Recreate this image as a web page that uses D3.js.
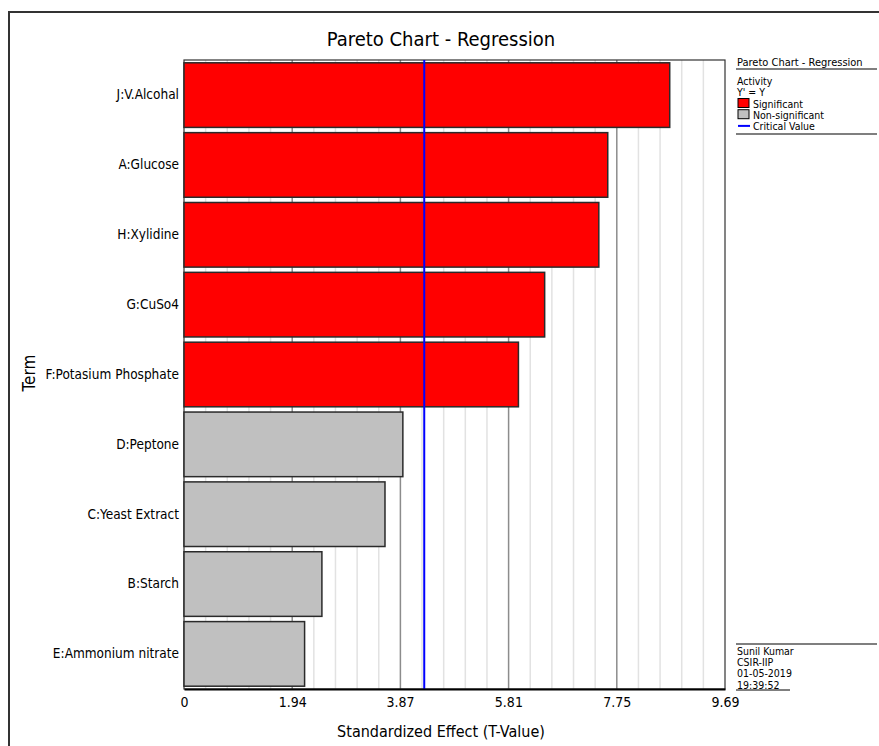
<!DOCTYPE html>
<html>
<head>
<meta charset="utf-8">
<script src="https://cdn.jsdelivr.net/npm/d3@7"></script>
<style>
  html, body { margin: 0; padding: 0; background: #fff; }
  svg text { font-family: Tahoma, "DejaVu Sans Condensed", "Liberation Sans", sans-serif; fill: #000; }
</style>
</head>
<body>
<svg id="chart" width="879" height="746"></svg>
<script>
// Terms, ordered from largest to smallest standardized effect
const terms = ["J:V.Alcohal", "A:Glucose", "H:Xylidine", "G:CuSo4", "F:Potasium Phosphate",
               "D:Peptone", "C:Yeast Extract", "B:Starch", "E:Ammonium nitrate"];
const tValues = [8.70, 7.59, 7.43, 6.46, 5.99, 3.92, 3.60, 2.47, 2.16];
const significant = [true, true, true, true, true, false, false, false, false];
const criticalValue = 4.303;
const xTicks = [0, 1.94, 3.87, 5.81, 7.75, 9.69];
const xMax = 9.69;
const legendLines = ["Activity", "Y' = Y"];
const legendItems = ["Significant", "Non-significant", "Critical Value"];
const footerLines = ["Sunil Kumar", "CSIR-IIP", "01-05-2019", "19:39:52"];

const FONT = 'Tahoma, "DejaVu Sans Condensed", "Liberation Sans", sans-serif';
const svg = d3.select("#chart");
const plot = { left: 184, right: 725, top: 60, bottom: 689 };

// Outer frame (top and left edges)
svg.append("path")
  .attr("d", "M9,746 V12 H879")
  .attr("fill", "none").attr("stroke", "#333").attr("stroke-width", 2);

const x = d3.scaleLinear().domain([0, xMax]).range([plot.left, plot.right]);
const y = d3.scaleBand().domain(terms).range([plot.top, plot.bottom])
  .paddingInner(0.075).paddingOuter(0.04);

// Gridlines: minor every fifth of a major step, majors at tick values
const minorStep = xMax / 25;
const minor = d3.range(1, 25).map(i => i * minorStep);
svg.append("g").selectAll("line").data(minor).join("line")
  .attr("x1", d => x(d)).attr("x2", d => x(d))
  .attr("y1", plot.top).attr("y2", plot.bottom)
  .attr("stroke", (d, i) => (i + 1) % 5 === 0 ? "#8c8c8c" : "#e2e2e2")
  .attr("stroke-width", 1.5);

// Plot frame
svg.append("rect")
  .attr("x", plot.left).attr("y", plot.top)
  .attr("width", plot.right - plot.left).attr("height", plot.bottom - plot.top)
  .attr("fill", "none").attr("stroke", "#333").attr("stroke-width", 1.2);

// Bars
svg.append("g").selectAll("rect").data(terms).join("rect")
  .attr("x", x(0))
  .attr("y", d => y(d))
  .attr("width", (d, i) => x(tValues[i]) - x(0))
  .attr("height", y.bandwidth())
  .attr("fill", (d, i) => significant[i] ? "#ff0000" : "#c0c0c0")
  .attr("stroke", "#2a2a2a").attr("stroke-width", 1.5);

// Critical value line
svg.append("line")
  .attr("x1", x(criticalValue)).attr("x2", x(criticalValue))
  .attr("y1", plot.top).attr("y2", plot.bottom)
  .attr("stroke", "#0000ff").attr("stroke-width", 2);

// X axis
const xAxis = svg.append("g")
  .attr("transform", `translate(0,${plot.bottom})`)
  .call(d3.axisBottom(x).tickValues(xTicks).tickSize(0).tickPadding(8)
    .tickFormat(d => d === 0 ? "0" : d3.format(".2f")(d)));
xAxis.select(".domain").attr("stroke", "#000").attr("stroke-width", 2);
xAxis.selectAll("text").attr("font-size", 14).style("font-family", FONT);

// Y axis labels
const yAxis = svg.append("g")
  .attr("transform", `translate(${plot.left},0)`)
  .call(d3.axisLeft(y).tickSize(0).tickPadding(5));
yAxis.select(".domain").remove();
yAxis.selectAll("text").attr("font-size", 13.5).style("font-family", FONT);

// Titles
svg.append("text").attr("x", 441).attr("y", 46).attr("text-anchor", "middle")
  .attr("font-size", 20).text("Pareto Chart - Regression");
svg.append("text").attr("x", 441).attr("y", 737).attr("text-anchor", "middle")
  .attr("font-size", 16).text("Standardized Effect (T-Value)");
svg.append("text").attr("transform", "translate(35,373) rotate(-90)")
  .attr("text-anchor", "middle").attr("font-size", 17).text("Term");

// Legend
const lg = svg.append("g").attr("font-size", 10.5);
lg.append("text").attr("x", 737).attr("y", 66).attr("font-size", 11).text("Pareto Chart - Regression");
lg.append("line").attr("x1", 736).attr("x2", 877).attr("y1", 69).attr("y2", 69)
  .attr("stroke", "#000").attr("stroke-width", 1.2);
legendLines.forEach((t, i) => {
  lg.append("text").attr("x", 737).attr("y", 85 + i * 11.2).text(t);
});
const swatchColors = ["#ff0000", "#c0c0c0"];
legendItems.forEach((t, i) => {
  const yy = 107.5 + i * 11.2;
  if (i < 2) {
    lg.append("rect").attr("x", 738).attr("y", yy - 9).attr("width", 11).attr("height", 9)
      .attr("fill", swatchColors[i]).attr("stroke", "#000").attr("stroke-width", 1);
  } else {
    lg.append("line").attr("x1", 738).attr("x2", 750).attr("y1", yy - 4).attr("y2", yy - 4)
      .attr("stroke", "#0000ff").attr("stroke-width", 2);
  }
  lg.append("text").attr("x", 753).attr("y", yy).text(t);
});
lg.append("line").attr("x1", 736).attr("x2", 877).attr("y1", 134).attr("y2", 134)
  .attr("stroke", "#000").attr("stroke-width", 1.2);

// Footer block
const fg = svg.append("g").attr("font-size", 10.5);
fg.append("line").attr("x1", 736).attr("x2", 877).attr("y1", 644).attr("y2", 644)
  .attr("stroke", "#000").attr("stroke-width", 1.2);
footerLines.forEach((t, i) => {
  fg.append("text").attr("x", 737).attr("y", 655 + i * 11.2).text(t);
});
fg.append("line").attr("x1", 736).attr("x2", 790).attr("y1", 690).attr("y2", 690)
  .attr("stroke", "#000").attr("stroke-width", 1);
</script>
</body>
</html>
